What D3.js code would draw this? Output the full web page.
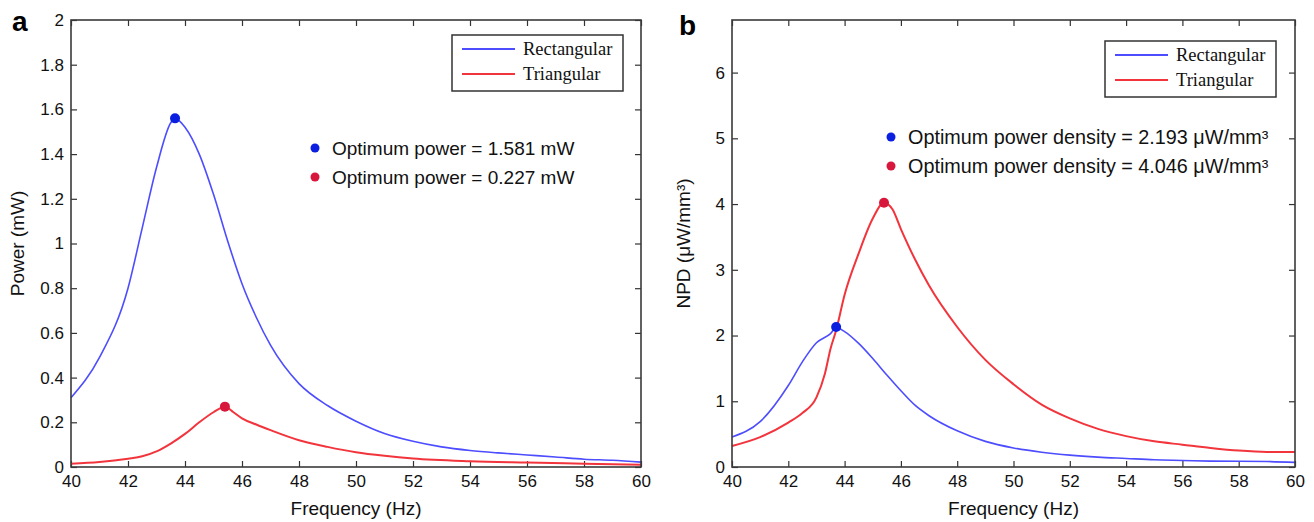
<!DOCTYPE html>
<html>
<head>
<meta charset="utf-8">
<script src="https://cdn.jsdelivr.net/npm/d3@7"></script>
<style>
  body { margin: 0; background: #fff; }
  svg { display: block; }
  .tick text { font-family: "Liberation Sans", Arial, sans-serif; font-size: 17px; fill: #111; }
  .tick line { stroke: #333; stroke-width: 1.2; }
</style>
</head>
<body>
<svg width="1314" height="522"></svg>
<script>
// tick values
var xTicks = [40, 42, 44, 46, 48, 50, 52, 54, 56, 58, 60];
var yTicksA = [0, 0.2, 0.4, 0.6, 0.8, 1, 1.2, 1.4, 1.6, 1.8, 2];
var yTicksB = [0, 1, 2, 3, 4, 5, 6];

// panel a - power (mW)
var rectFreqA = [40, 41, 42, 42.5, 43, 43.5, 43.65, 44, 44.5, 45, 45.5, 46, 46.5, 47, 48, 49, 50, 51, 52, 53, 54, 55, 56, 57, 58, 59, 60];
var rectPowerA = [0.31, 0.49, 0.80, 1.07, 1.34, 1.54, 1.56, 1.52, 1.40, 1.22, 1.01, 0.82, 0.67, 0.545, 0.373, 0.275, 0.205, 0.15, 0.115, 0.09, 0.074, 0.063, 0.054, 0.045, 0.035, 0.03, 0.022];
var triFreqA = [40, 41, 42, 42.5, 43, 43.5, 44, 44.5, 45, 45.4, 45.7, 46, 46.5, 47, 48, 49, 50, 51, 52, 54, 56, 58, 60];
var triPowerA = [0.015, 0.022, 0.037, 0.048, 0.07, 0.105, 0.148, 0.2, 0.245, 0.27, 0.245, 0.218, 0.19, 0.165, 0.12, 0.09, 0.066, 0.05, 0.038, 0.026, 0.02, 0.015, 0.01];
var peakA = [[43.65, 1.56], [45.4, 0.27]];
var notesA = ["Optimum power = 1.581 mW", "Optimum power = 0.227 mW"];

// panel b - normalised power density (uW/mm3)
var rectFreqB = [40, 41, 42, 42.5, 43, 43.5, 43.7, 44, 44.5, 45, 45.5, 46, 46.5, 47, 48, 49, 50, 51, 52, 53, 54, 55, 56, 57, 58, 59, 60];
var rectNpdB = [0.455, 0.69, 1.24, 1.6, 1.89, 2.03, 2.12, 2.06, 1.88, 1.65, 1.40, 1.16, 0.94, 0.78, 0.55, 0.39, 0.29, 0.225, 0.18, 0.15, 0.13, 0.11, 0.10, 0.09, 0.087, 0.083, 0.07];
var triFreqB = [40, 41, 42, 42.5, 43, 43.3, 43.5, 43.7, 44, 44.5, 45, 45.4, 45.7, 46, 46.5, 47, 48, 49, 50, 51, 52, 53, 54, 55, 56, 57, 58, 59, 60];
var triNpdB = [0.32, 0.455, 0.675, 0.82, 1.06, 1.42, 1.8, 2.08, 2.62, 3.25, 3.78, 4.02, 3.92, 3.62, 3.16, 2.76, 2.13, 1.63, 1.26, 0.95, 0.74, 0.58, 0.47, 0.39, 0.34, 0.29, 0.25, 0.23, 0.23];
var peakB = [[43.7, 2.13], [45.4, 4.02]];
var notesB = ["Optimum power density = 2.193 \u03bcW/mm\u00b3", "Optimum power density = 4.046 \u03bcW/mm\u00b3"];

var seriesNames = ["Rectangular", "Triangular"];
var lineColors = ["#4d4dff", "#f2343c"];
var lineWidths = [1.6, 2];
var dotColors = ["#0b1fe0", "#d8173c"];

var svg = d3.select("svg");

function zip(xs, ys) {
    return xs.map(function(d, i) { return [d, ys[i]]; });
}

function drawPanel(p) {
    var x = d3.scaleLinear().domain([40, 60]).range([p.left, p.right]),
        y = d3.scaleLinear().domain([0, p.ymax]).range([p.bottom, p.top]);

    var g = svg.append("g");

    // axes, ticks pointing inwards like matlab
    g.append("g")
        .attr("transform", "translate(0," + p.bottom + ")")
        .call(d3.axisBottom(x).tickValues(xTicks).tickSize(-6).tickPadding(8).tickFormat(d3.format("d")))
        .call(function(a) { a.select(".domain").remove(); });
    g.append("g")
        .attr("transform", "translate(0," + p.top + ")")
        .call(d3.axisTop(x).tickValues(xTicks).tickSize(-6).tickFormat(""))
        .call(function(a) { a.select(".domain").remove(); });
    g.append("g")
        .attr("transform", "translate(" + p.left + ",0)")
        .call(d3.axisLeft(y).tickValues(p.yTicks).tickSize(-6).tickPadding(7).tickFormat(function(d) { return String(+d.toFixed(1)); }))
        .call(function(a) { a.select(".domain").remove(); });
    g.append("g")
        .attr("transform", "translate(" + p.right + ",0)")
        .call(d3.axisRight(y).tickValues(p.yTicks).tickSize(-6).tickFormat(""))
        .call(function(a) { a.select(".domain").remove(); });

    var line = d3.line()
        .x(function(d) { return x(d[0]); })
        .y(function(d) { return y(d[1]); })
        .curve(d3.curveMonotoneX);

    p.series.forEach(function(s, i) {
        g.append("path")
            .datum(s)
            .attr("fill", "none")
            .attr("stroke", lineColors[i])
            .attr("stroke-width", lineWidths[i])
            .attr("d", line);
    });

    g.selectAll(".peak")
        .data(p.peaks)
        .enter().append("circle")
        .attr("class", "peak")
        .attr("cx", function(d) { return x(d[0]); })
        .attr("cy", function(d) { return y(d[1]); })
        .attr("r", 5)
        .attr("fill", function(d, i) { return dotColors[i]; });

    // frame
    g.append("rect")
        .attr("x", p.left).attr("y", p.top)
        .attr("width", p.right - p.left).attr("height", p.bottom - p.top)
        .attr("fill", "none").attr("stroke", "#3a3a3a").attr("stroke-width", 1.6);

    // legend
    var lg = g.append("g").attr("transform", "translate(" + p.legX + "," + p.legY + ")");
    lg.append("rect")
        .attr("width", 171).attr("height", 56)
        .attr("fill", "#fff").attr("stroke", "#333").attr("stroke-width", 1.5);
    seriesNames.forEach(function(name, i) {
        lg.append("line")
            .attr("x1", 10).attr("x2", 63)
            .attr("y1", 14 + i * 25).attr("y2", 14 + i * 25)
            .attr("stroke", lineColors[i]).attr("stroke-width", 2);
        lg.append("text")
            .attr("x", 71).attr("y", 20 + i * 25)
            .attr("font-family", "'Liberation Serif', 'Times New Roman', serif")
            .attr("font-size", 18.5)
            .attr("fill", "#111")
            .text(name);
    });

    // annotations
    p.notes.forEach(function(t, i) {
        g.append("circle")
            .attr("cx", p.noteX).attr("cy", p.noteY + i * 29)
            .attr("r", 4.5).attr("fill", dotColors[i]);
        g.append("text")
            .attr("x", p.noteX + 17).attr("y", p.noteY + i * 29 + 7)
            .attr("font-family", "'Liberation Sans', Arial, sans-serif")
            .attr("font-size", p.noteSize)
            .attr("fill", "#111")
            .text(t);
    });

    // axis titles
    g.append("text")
        .attr("x", (p.left + p.right) / 2).attr("y", 515)
        .attr("text-anchor", "middle")
        .attr("font-family", "'Liberation Sans', Arial, sans-serif")
        .attr("font-size", 19).attr("fill", "#111")
        .text("Frequency (Hz)");
    g.append("text")
        .attr("transform", "translate(" + p.ylabX + "," + ((p.top + p.bottom) / 2) + ") rotate(-90)")
        .attr("text-anchor", "middle")
        .attr("font-family", "'Liberation Sans', Arial, sans-serif")
        .attr("font-size", 19).attr("fill", "#111")
        .text(p.ylab);

    g.append("text")
        .attr("x", p.tagX).attr("y", p.tagY)
        .attr("font-family", "'Liberation Sans', Arial, sans-serif")
        .attr("font-size", 28).attr("font-weight", "bold").attr("fill", "#000")
        .text(p.tag);
}

drawPanel({
    left: 71, right: 641, top: 20, bottom: 467, ymax: 2,
    yTicks: yTicksA,
    series: [zip(rectFreqA, rectPowerA), zip(triFreqA, triPowerA)],
    peaks: peakA,
    notes: notesA, noteX: 315, noteY: 148, noteSize: 19,
    legX: 452, legY: 35,
    ylab: "Power (mW)", ylabX: 24,
    tag: "a", tagX: 12, tagY: 31
});

drawPanel({
    left: 732, right: 1295, top: 20, bottom: 467, ymax: 6.8,
    yTicks: yTicksB,
    series: [zip(rectFreqB, rectNpdB), zip(triFreqB, triNpdB)],
    peaks: peakB,
    notes: notesB, noteX: 891, noteY: 137, noteSize: 19.8,
    legX: 1105, legY: 41,
    ylab: "NPD (\u03bcW/mm\u00b3)", ylabX: 690,
    tag: "b", tagX: 679, tagY: 35
});
</script>
</body>
</html>
